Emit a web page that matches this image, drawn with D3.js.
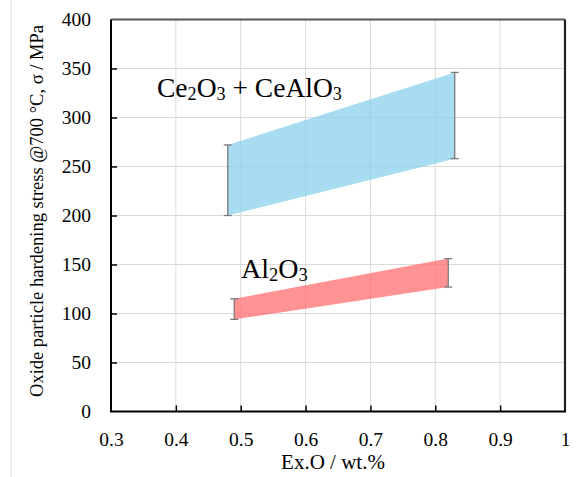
<!DOCTYPE html>
<html>
<head>
<meta charset="utf-8">
<script src="https://cdn.jsdelivr.net/npm/d3@7"></script>
<style>
  body { margin: 0; background: #fff; }
  svg text, svg tspan { font-family: "Liberation Serif", "Times New Roman", serif; fill: #000; }
</style>
</head>
<body>
<svg id="chart" width="579" height="477"></svg>
<script>
// band data: [x, lower, upper]
const ceX = [0.48, 0.83]
const ceLow = [200, 258]
const ceHigh = [272, 346]
const alX = [0.49, 0.82]
const alLow = [94, 127]
const alHigh = [115, 156]
const xTicks = [0.3, 0.4, 0.5, 0.6, 0.7, 0.8, 0.9, 1]
const yTicks = [0, 50, 100, 150, 200, 250, 300, 350, 400]

const serif = '"Liberation Serif", "Times New Roman", serif'
const svg = d3.select("#chart")
const padL = 111, padR = 565, padT = 19.5, padB = 411.5

const x = d3.scaleLinear().domain([0.3, 1]).range([padL, padR])
const y = d3.scaleLinear().domain([0, 400]).range([padB, padT])

// thin page border on the left
svg.append("line").attr("x1", 11).attr("x2", 11).attr("y1", 0).attr("y2", 477)
  .attr("stroke", "#dcdcdc").attr("stroke-width", 1)

// grid
svg.append("g").selectAll("line").data(xTicks.slice(1, -1)).join("line")
  .attr("x1", d => x(d)).attr("x2", d => x(d)).attr("y1", padT).attr("y2", padB)
  .attr("stroke", "#dadada").attr("stroke-width", 1)
svg.append("g").selectAll("line").data(yTicks.slice(1, -1)).join("line")
  .attr("x1", padL).attr("x2", padR).attr("y1", d => y(d)).attr("y2", d => y(d))
  .attr("stroke", "#dadada").attr("stroke-width", 1)

function band(xs, lo, hi, color) {
  const rows = xs.map((v, i) => ({ x: v, lo: lo[i], hi: hi[i] }))
  const area = d3.area().x(d => x(d.x)).y0(d => y(d.lo)).y1(d => y(d.hi))
  svg.append("path").datum(rows).attr("d", area)
    .attr("fill", color).attr("fill-opacity", 0.72)
  const g = svg.append("g").attr("stroke", "#7a7a7a").attr("stroke-width", 1.3)
  rows.forEach(d => {
    g.append("line").attr("x1", x(d.x)).attr("x2", x(d.x)).attr("y1", y(d.lo)).attr("y2", y(d.hi))
    g.append("line").attr("x1", x(d.x) - 4).attr("x2", x(d.x) + 4).attr("y1", y(d.lo)).attr("y2", y(d.lo))
    g.append("line").attr("x1", x(d.x) - 4).attr("x2", x(d.x) + 4).attr("y1", y(d.hi)).attr("y2", y(d.hi))
  })
}
band(ceX, ceLow, ceHigh, "#87ceeb")
band(alX, alLow, alHigh, "#ff6868")

// axes, ticks inside
const xAxis = svg.append("g").attr("transform", `translate(0,${padB})`)
  .call(d3.axisBottom(x).tickValues(xTicks).tickSizeInner(-6).tickSizeOuter(0).tickPadding(21)
    .tickFormat(d => d === 1 ? "1" : d3.format(".1f")(d)))
const yAxis = svg.append("g").attr("transform", `translate(${padL},0)`)
  .call(d3.axisLeft(y).tickValues(yTicks).tickSizeInner(-6).tickSizeOuter(0).tickPadding(20))
;[xAxis, yAxis].forEach(a => {
  a.attr("font-family", null)
  a.select(".domain").remove()
  a.selectAll(".tick line").attr("stroke", "#000").attr("stroke-width", 1.5)
  a.selectAll("text").style("font-family", serif).style("font-size", "19.5px")
})
xAxis.selectAll(".tick").filter(d => d === 0.3 || d === 1).select("line").remove()
yAxis.selectAll(".tick").filter(d => d === 0 || d === 400).select("line").remove()

// frame
svg.append("line").attr("x1", padL).attr("x2", padR).attr("y1", padT).attr("y2", padT)
  .attr("stroke", "#555").attr("stroke-width", 1.8)
svg.append("line").attr("x1", padR).attr("x2", padR).attr("y1", padT).attr("y2", padB)
  .attr("stroke", "#222").attr("stroke-width", 2.2)
svg.append("line").attr("x1", padL).attr("x2", padL).attr("y1", padT).attr("y2", padB)
  .attr("stroke", "#000").attr("stroke-width", 2)
svg.append("line").attr("x1", padL - 1).attr("x2", padR + 1).attr("y1", padB).attr("y2", padB)
  .attr("stroke", "#000").attr("stroke-width", 2)

// axis titles
svg.append("text").attr("x", 333).attr("y", 469).attr("text-anchor", "middle")
  .style("font-family", serif).style("font-size", "21px").text("Ex.O / wt.%")
svg.append("text").attr("transform", "translate(43,211) rotate(-90)").attr("text-anchor", "middle")
  .style("font-family", serif).style("font-size", "18.5px")
  .text("Oxide particle hardening  stress @700 °C, σ / MPa")

// series labels
function chem(px, py, parts, size) {
  const t = svg.append("text").attr("x", px).attr("y", py)
    .style("font-family", serif).style("font-size", size + "px")
  parts.forEach(p => {
    if (p.sub) t.append("tspan").style("font-size", (size * 0.66) + "px").attr("dy", size * 0.1).text(p.s)
    else t.append("tspan").attr("dy", p.after ? -size * 0.1 : 0).text(p.s)
  })
}
chem(157, 97, [{ s: "Ce" }, { s: "2", sub: true }, { s: "O", after: true }, { s: "3", sub: true },
  { s: " + CeAlO", after: true }, { s: "3", sub: true }], 27.5)
chem(241, 278, [{ s: "Al" }, { s: "2", sub: true }, { s: "O", after: true }, { s: "3", sub: true }], 28)
</script>
</body>
</html>
